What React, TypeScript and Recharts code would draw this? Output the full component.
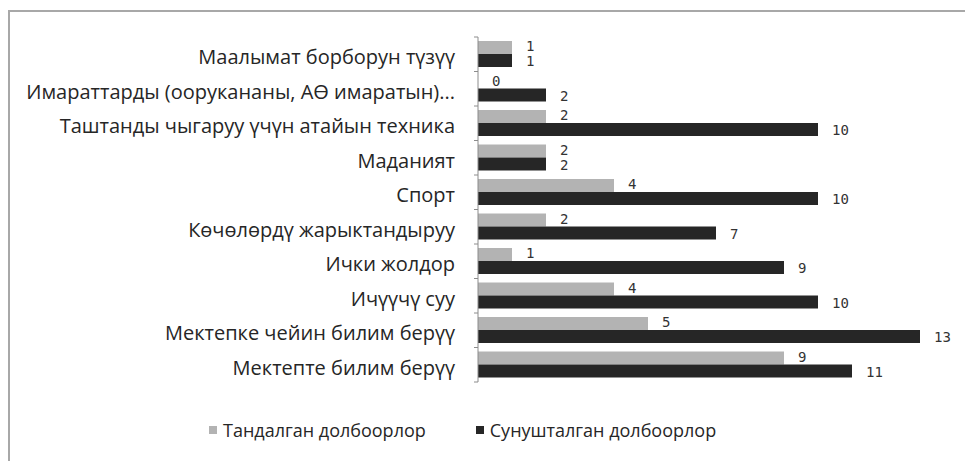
import React from "react";
import { Bar, BarChart, LabelList, XAxis, YAxis } from "recharts";

// categories top to bottom
const categories = [
  "Маалымат борборун түзүү",
  "Имараттарды (оорукананы, АӨ имаратын)...",
  "Таштанды чыгаруу үчүн атайын техника",
  "Маданият",
  "Спорт",
  "Көчөлөрдү жарыктандыруу",
  "Ички жолдор",
  "Ичүүчү суу",
  "Мектепке чейин билим берүү",
  "Мектепте билим берүү",
];
const selected = [1, 0, 2, 2, 4, 2, 1, 4, 5, 9];
const proposed = [1, 2, 10, 2, 10, 7, 9, 10, 13, 11];
const seriesNames = ["Тандалган долбоорлор", "Сунушталган долбоорлор"];
const xDomain = [0, 14];

const data = categories.map((name, i) => ({
  name,
  selected: selected[i],
  proposed: proposed[i],
}));

const W = 960;
const H = 385;
const M = { top: 25, right: 16, bottom: 15, left: 0 };
const TICK_SIZE = 4;
const TICK_MARGIN = 19;
const LABEL_FONT = "'Open Sans', 'Noto Sans', sans-serif";
const VALUE_FONT = "'DejaVu Sans Mono', monospace";

const CategoryTick = (props: any) => {
  const { x, y, payload, index } = props;
  const axisX = x + TICK_SIZE + TICK_MARGIN;
  const band = (H - M.top - M.bottom) / categories.length;
  return (
    <g>
      <line x1={axisX - TICK_SIZE} x2={axisX} y1={y - band / 2} y2={y - band / 2} stroke="#8c8c8c" />
      {index === categories.length - 1 && (
        <line x1={axisX - TICK_SIZE} x2={axisX} y1={y + band / 2} y2={y + band / 2} stroke="#8c8c8c" />
      )}
      <text
        x={x}
        y={y + 3}
        dy="0.35em"
        textAnchor="end"
        fill="#262626"
        fontSize={20}
        fontFamily={LABEL_FONT}
      >
        {payload.value}
      </text>
    </g>
  );
};

const valueText = (x: number, y: number, value: any, key?: string) => (
  <text key={key} x={x} y={y} dy="0.35em" fontFamily={VALUE_FONT} fontSize={14} fill="#333">
    {value}
  </text>
);

const renderSelected = (props: any) => {
  const { x, y, width, height, value } = props;
  return valueText(Number(x) + Number(width || 0) + 14, Number(y) + Number(height) / 2 - 1, value);
};

// the zero-length gray bar gets no label of its own, so it is drawn with the dark one
const renderProposed = (props: any) => {
  const { x, y, width, height, value, index } = props;
  const h = Number(height);
  const out = [valueText(Number(x) + Number(width) + 14, Number(y) + h / 2 + 1, value, "p")];
  if (selected[index] === 0) {
    out.push(valueText(Number(x) + 14, Number(y) - h / 2 - 1, selected[index], "s"));
  }
  return <g>{out}</g>;
};

export default function App() {
  return (
    <div
      style={{
        position: "relative",
        marginTop: 2,
        width: 963,
        height: 449,
        borderTop: "2px solid #a8a8a8",
        borderLeft: "2px solid #a8a8a8",
        background: "#fff",
      }}
    >
      <BarChart
        width={W}
        height={H}
        data={data}
        layout="vertical"
        margin={M}
        barGap={0}
        barSize={13}
      >
        <XAxis type="number" domain={xDomain} hide />
        <YAxis
          type="category"
          dataKey="name"
          width={468}
          tickSize={TICK_SIZE}
          tickMargin={TICK_MARGIN}
          tickLine={false}
          axisLine={{ stroke: "#8c8c8c" }}
          tick={<CategoryTick />}
          interval={0}
        />
        <Bar dataKey="selected" name={seriesNames[0]} fill="#b3b3b3" isAnimationActive={false}>
          <LabelList dataKey="selected" content={renderSelected} />
        </Bar>
        <Bar dataKey="proposed" name={seriesNames[1]} fill="#262626" isAnimationActive={false}>
          <LabelList dataKey="proposed" content={renderProposed} />
        </Bar>
      </BarChart>
      <div
        style={{
          position: "absolute",
          top: 406,
          left: 0,
          paddingLeft: 199,
          display: "flex",
          gap: 50,
          fontFamily: LABEL_FONT,
          fontSize: 18,
          color: "#262626",
        }}
      >
        {seriesNames.map((n, i) => (
          <span key={n} style={{ display: "flex", alignItems: "center" }}>
            <span
              style={{
                display: "inline-block",
                width: 8,
                height: 8,
                marginRight: 6,
                background: i === 0 ? "#b3b3b3" : "#262626",
              }}
            />
            {n}
          </span>
        ))}
      </div>
    </div>
  );
}
